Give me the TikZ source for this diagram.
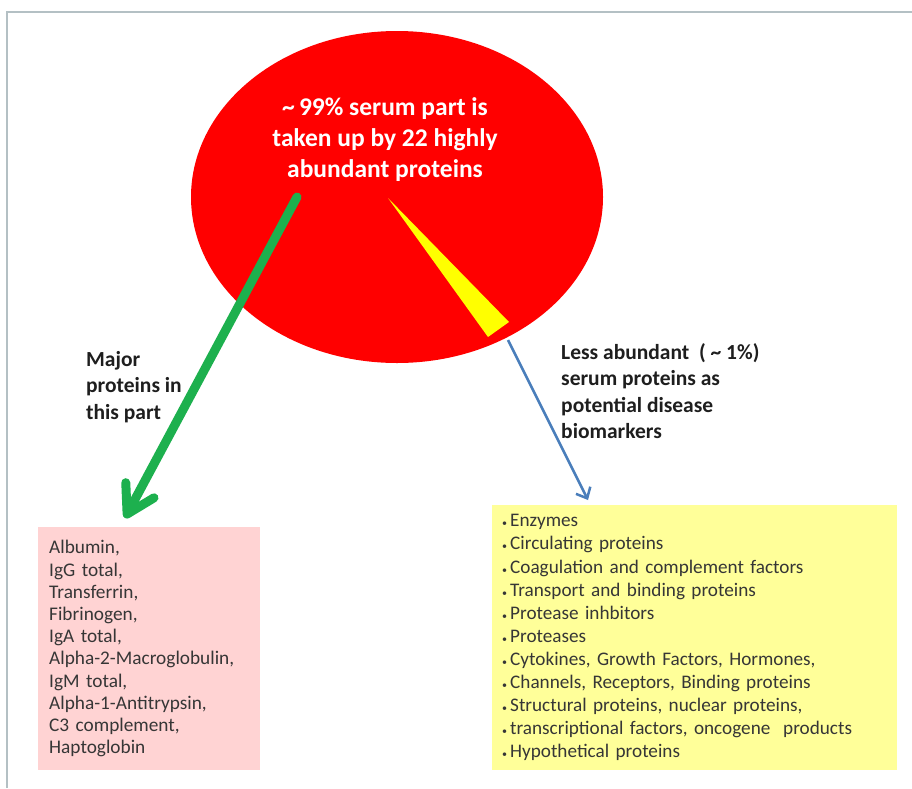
\documentclass[tikz,border=0pt]{standalone}
\usepackage{fontspec}
\setmainfont{Carlito}
\usetikzlibrary{arrows.meta,shapes.geometric}
\definecolor{framegray}{HTML}{B4C0C4}
\definecolor{piered}{HTML}{FF0000}
\definecolor{wedgeyellow}{HTML}{FFFF00}
\definecolor{arrowgreen}{HTML}{1DB04E}
\definecolor{arrowblue}{HTML}{4A7EBB}
\definecolor{pinkfill}{HTML}{FFD3D3}
\definecolor{yellowfill}{HTML}{FFFF99}
\definecolor{labelcol}{HTML}{1E1E1E}
\definecolor{listcol}{HTML}{363636}
\newcommand{\blt}{{\fontsize{10}{10}\selectfont\textbullet}\hspace{3pt}}
\begin{document}
\begin{tikzpicture}[x=1pt,y=-1pt,
  labeltext/.style={font=\fontsize{21.5}{26.5}\selectfont\bfseries, text=labelcol, align=left, inner sep=0pt, anchor=north west},
  listbox/.style={text=listcol, align=left, inner ysep=0pt, anchor=north west},
  greenarrow/.style={draw=arrowgreen, line width=9pt, line cap=round, -{Straight Barb[length=27pt,width=32pt,round]}},
  bluearrow/.style={draw=arrowblue, line width=2.5pt, -{Straight Barb[length=9pt,width=16pt]}}
]
\useasboundingbox (0,0) rectangle (912,788);
\fill[white] (0,0) rectangle (912,788);
% frame
\draw[framegray, line width=2.5pt] (7,788) -- (7,12) -- (912,12);
% pie
\node[ellipse, fill=piered, minimum width=412pt, minimum height=332pt, inner sep=0pt] (serum) at (397,197) {};
\fill[wedgeyellow] (388,198) -- (488,337) -- (509,322) -- cycle;
\node[font=\fontsize{25.5}{31}\selectfont\bfseries, text=white, align=center, inner sep=0pt] (title) at (385,140)
  {\textasciitilde\,99\% serum part is\\taken up by 22 highly\\abundant proteins};
% labels
\node[labeltext] (major) at (86,351) {Major\\proteins in\\this part};
\node[labeltext] (less) at (561,343) {Less abundant\ \ ( \textasciitilde\ 1\%)\\serum proteins as\\potential disease\\biomarkers};
% boxes
\node[listbox, fill=pinkfill, font=\fontsize{19.3}{22.2}\selectfont, text width=200pt, inner xsep=11pt, minimum height=243pt] (pink) at (38,527)
  {Albumin,\\IgG total,\\Transferrin,\\Fibrinogen,\\IgA total,\\Alpha-2-Macroglobulin,\\IgM total,\\Alpha-1-Antitrypsin,\\C3 complement,\\Haptoglobin};
\node[listbox, fill=yellowfill, font=\fontsize{19.2}{23.1}\selectfont, text width=385pt, inner xsep=10pt, minimum height=265pt] (yellow) at (492,505)
  {\blt Enzymes\\\blt Circulating proteins\\\blt Coagulation and complement factors\\\blt Transport and binding proteins\\\blt Protease inhbitors\\\blt Proteases\\\blt Cytokines, Growth Factors, Hormones,\\\blt Channels, Receptors, Binding proteins\\\blt Structural proteins, nuclear proteins,\\\blt transcriptional factors, oncogene\ \ products\\\blt Hypothetical proteins};
% connectors
\coordinate (g1) at (297,197);
\coordinate (g2) at (125,518);
\coordinate (b1) at (508,340);
\coordinate (b2) at (588,500);
\draw[greenarrow] (g1) -- (g2);
\draw[bluearrow] (b1) -- (b2);
\end{tikzpicture}
\end{document}
